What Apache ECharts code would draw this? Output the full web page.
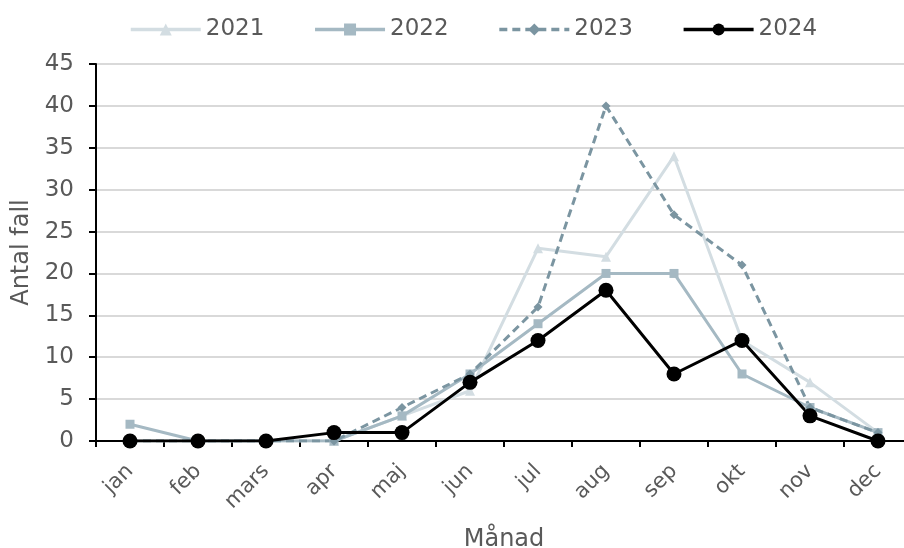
<!DOCTYPE html>
<html>
<head>
<meta charset="utf-8">
<script src="https://cdn.jsdelivr.net/npm/echarts@6/dist/echarts.min.js"></script>
<style>
  html, body { margin: 0; padding: 0; background: #fff; }
  #chart { width: 904px; height: 548px; }
</style>
</head>
<body>
<div id="chart"></div>
<script>
// Monthly case counts per year
const months = ['jan', 'feb', 'mars', 'apr', 'maj', 'jun', 'jul', 'aug', 'sep', 'okt', 'nov', 'dec'];
const years = ['2021', '2022', '2023', '2024'];
const cases2021 = [0, 0, 0, 0, 3, 6, 23, 22, 34, 12, 7, 1];
const cases2022 = [2, 0, 0, 0, 3, 8, 14, 20, 20, 8, 4, 1];
const cases2023 = [0, 0, 0, 0, 4, 8, 16, 40, 27, 21, 4, 1];
const cases2024 = [0, 0, 0, 1, 1, 7, 12, 18, 8, 12, 3, 0];
const yTicks = [0, 5, 10, 15, 20, 25, 30, 35, 40, 45];

const FONT = '"DejaVu Sans", sans-serif';
const TEXT = '#595959';

const chart = echarts.init(document.getElementById('chart'), null, { renderer: 'canvas' });

function line(name, data, color, symbol, size, dashed) {
  return {
    name: name,
    type: 'line',
    data: data,
    symbol: symbol,
    symbolSize: size,
    showSymbol: true,
    lineStyle: { color: color, width: 3, type: dashed ? [8, 5] : 'solid' },
    itemStyle: { color: color },
    emphasis: { disabled: true },
    animation: false
  };
}

chart.setOption({
  animation: false,
  legend: {
    top: 13,
    left: 124,
    itemWidth: 70,
    itemHeight: 15,
    itemGap: 49,
    lineStyle: { width: 3.5 },
    textStyle: { fontFamily: FONT, fontSize: 23, color: TEXT, padding: [0, 0, 0, 0] },
    data: years
  },
  grid: { left: 96, top: 64, width: 816, height: 377, containLabel: false, outerBoundsMode: 'none' },
  xAxis: {
    type: 'category',
    data: months,
    boundaryGap: true,
    name: 'Månad',
    nameLocation: 'middle',
    nameGap: 87,
    nameTextStyle: { fontFamily: FONT, fontSize: 24, color: TEXT },
    axisLine: { lineStyle: { color: '#000', width: 2 } },
    axisTick: { show: true, length: 6, lineStyle: { color: '#000', width: 2 } },
    axisLabel: { rotate: 45, fontFamily: FONT, fontSize: 21, color: TEXT, margin: 27 },
    splitLine: { show: false }
  },
  yAxis: {
    type: 'value',
    min: yTicks[0],
    max: yTicks[yTicks.length - 1],
    interval: 5,
    name: 'Antal fall',
    nameLocation: 'middle',
    nameGap: 61,
    nameTextStyle: { fontFamily: FONT, fontSize: 24, color: TEXT },
    axisLine: { show: true, lineStyle: { color: '#000', width: 2 } },
    axisTick: { show: true, inside: false, length: 7, lineStyle: { color: '#000', width: 2 } },
    axisLabel: { fontFamily: FONT, fontSize: 23, color: TEXT, margin: 22 },
    splitLine: { show: true, lineStyle: { color: '#d9d9d9', width: 2 } }
  },
  series: [
    line('2021', cases2021, '#d3dde2', 'triangle', 10, false),
    line('2022', cases2022, '#a5b9c3', 'rect', 9, false),
    line('2023', cases2023, '#7b95a1', 'diamond', 9, true),
    line('2024', cases2024, '#000000', 'circle', 15, false)
  ]
});
</script>
</body>
</html>
